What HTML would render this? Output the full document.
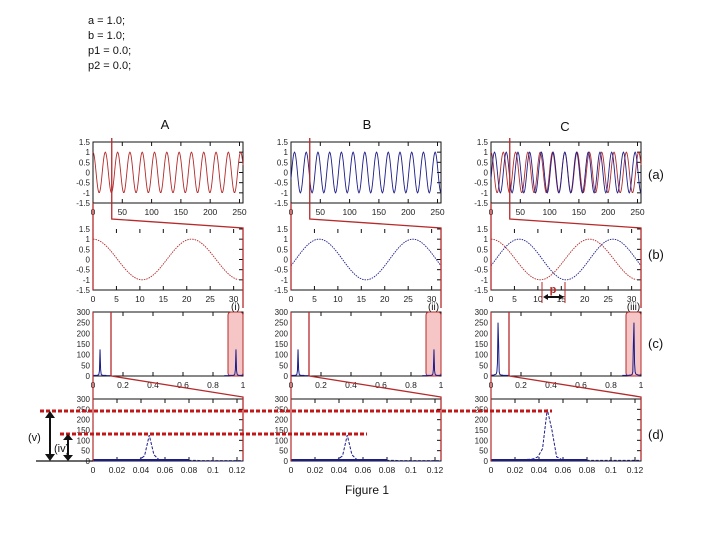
<!DOCTYPE html>
<html><head><meta charset="utf-8"><style>
html,body{margin:0;padding:0;background:#fff;}
svg{display:block;font-family:"Liberation Sans",sans-serif;}
</style></head><body>
<svg id="fig" width="720" height="540" viewBox="0 0 720 540">
<g font-size="11" fill="#111">
<text x="88" y="24">a = 1.0;</text>
<text x="88" y="39">b = 1.0;</text>
<text x="88" y="54">p1 = 0.0;</text>
<text x="88" y="69">p2 = 0.0;</text>
</g>
<g font-size="13" fill="#111">
<text x="165" y="129" text-anchor="middle">A</text>
<text x="367" y="129" text-anchor="middle">B</text>
<text x="565" y="131" text-anchor="middle">C</text>
<text x="648" y="179">(a)</text>
<text x="648" y="259">(b)</text>
<text x="648" y="348">(c)</text>
<text x="648" y="439">(d)</text>
</g>
<text x="367" y="494" text-anchor="middle" font-size="12" fill="#111">Figure 1</text>
<g id="plots"></g>
<g id="annot"></g>
</svg>
<script>
// Signal parameters per column: period (samples), phase offset
const redPeriods = [21, null, 21];
const bluePeriods = [null, 20, 20];
const bluePhase = [0, 1, 1];
// Spectrum amplitudes, bins k/256 for k=0..32
const specA = [3,3,3,3,3,3,3,3,4,5,8,25,125,30,8,5,4,3,3,3,3,3,3,2,2,2,2,2,2,2,2,2,2];
const specB = [3,3,3,3,3,3,3,3,4,5,8,25,125,30,8,5,4,3,3,3,3,3,3,2,2,2,2,2,2,2,2,2,2];
const specC = [4,4,4,4,4,5,6,7,8,10,20,60,250,150,20,8,6,5,4,4,4,3,3,3,3,3,3,3,3,3,3,3,3];
const specs = [specA, specB, specC];
const xTicksA = [0,50,100,150,200,250];
const xTicksB = [0,5,10,15,20,25,30];
const xTicksC = [0,0.2,0.4,0.6,0.8,1];
const xTickLabelsC = ["0","0.2","0.4","0.6","0.8","1"];
const xTicksD = [0,0.02,0.04,0.06,0.08,0.1,0.12];
const yTicksSig = [1.5,1,0.5,0,-0.5,-1,-1.5];
const yTicksSpec = [0,50,100,150,200,250,300];
const roman = ["(i)","(ii)","(iii)"];

const NS="http://www.w3.org/2000/svg";
const plots=document.getElementById('plots');
const annot=document.getElementById('annot');
function mk(tag,attrs,parent){const e=document.createElementNS(NS,tag);for(const k in attrs)e.setAttribute(k,attrs[k]);(parent||plots).appendChild(e);return e;}
const RED="#b52a2a", BLUE="#1c1c8a";
const colX=[93,291,491], W=150;
const rows=[{y0:142,y1:203},{y0:229,y1:290},{y0:312,y1:376},{y0:399,y1:461}];

function axes(g,x0,r,xmin,xmax,ymin,ymax,xt,xl,yt,name,noTop){
  const sx=v=>x0+(v-xmin)/(xmax-xmin)*W, sy=v=>r.y1-(v-ymin)/(ymax-ymin)*(r.y1-r.y0);
  let f;
  if(noTop){
    f=mk('path',{d:`M${x0},${r.y0} L${x0},${r.y1} L${x0+W},${r.y1} L${x0+W},${r.y0}`,fill:"none",stroke:"#111","stroke-width":1},g);
  } else {
    f=mk('rect',{x:x0,y:r.y0,width:W,height:r.y1-r.y0,fill:"none",stroke:"#111","stroke-width":1},g);
  }
  
  
  xt.forEach((v,i)=>{
    mk('line',{x1:sx(v),x2:sx(v),y1:r.y1,y2:r.y1-4,stroke:"#111"},g);
    mk('line',{x1:sx(v),x2:sx(v),y1:r.y0,y2:r.y0+4,stroke:"#111"},g);
    const t=mk('text',{x:sx(v),y:r.y1+12,"font-size":8.5,"text-anchor":"middle",fill:"#222"},g);
    t.textContent=xl?xl[i]:String(v);
    
    
  });
  yt.forEach(v=>{
    mk('line',{x1:x0+W,x2:x0+W-4,y1:sy(v),y2:sy(v),stroke:"#111"},g);
    const t=mk('text',{x:x0-3,y:sy(v)+3,"font-size":8,"text-anchor":"end",fill:"#222"},g);
    t.textContent=String(v);
    
    
  });
  return {sx,sy};
}
function sig(period,phase,t,isCos){const a=2*Math.PI*(t-phase)/period;return isCos?Math.cos(a):Math.sin(a);}

for(let c=0;c<3;c++){
  const x0=colX[c];
  const g=mk('g',{});
  
  
  // (a)
  let s=axes(g,x0,rows[0],0,256,-1.5,1.5,xTicksA,null,yTicksSig,'signal-full',false);
  if(redPeriods[c]){let p=[];for(let t=0;t<=256;t++)p.push(s.sx(t)+","+s.sy(sig(redPeriods[c],0,t,true)));
    const l=mk('polyline',{points:p.join(' '),fill:"none",stroke:RED,"stroke-width":0.9},g);
    }
  if(bluePeriods[c]){let p=[];for(let t=0;t<=256;t++)p.push(s.sx(t)+","+s.sy(sig(bluePeriods[c],bluePhase[c],t,false)));
    const l=mk('polyline',{points:p.join(' '),fill:"none",stroke:BLUE,"stroke-width":0.9},g);
    }
  // (b)
  s=axes(g,x0,rows[1],0,32,-1.5,1.5,xTicksB,null,yTicksSig,'signal-zoom',true);
  if(redPeriods[c]){let p=[];for(let t=0;t<=31;t+=0.25)p.push(s.sx(t)+","+s.sy(sig(redPeriods[c],0,t,true)));
    const l=mk('polyline',{points:p.join(' '),fill:"none",stroke:RED,"stroke-width":0.9,"stroke-dasharray":"1.5 1"},g);
    }
  if(bluePeriods[c]){let p=[];for(let t=0;t<=32;t+=0.25)p.push(s.sx(t)+","+s.sy(sig(bluePeriods[c],bluePhase[c],t,false)));
    const l=mk('polyline',{points:p.join(' '),fill:"none",stroke:BLUE,"stroke-width":0.9,"stroke-dasharray":"1.5 1"},g);
    }
  // (c)
  s=axes(g,x0,rows[2],0,1,0,300,xTicksC,xTickLabelsC,yTicksSpec,'spectrum-full',false);
  const sh=mk('rect',{x:s.sx(0.9),y:rows[2].y0,width:s.sx(1)-s.sx(0.9),height:rows[2].y1-rows[2].y0,fill:"#f6c6c6",stroke:RED,rx:3},g);
  
  const rl=mk('text',{x:s.sx(0.95),y:rows[2].y0-2,"font-size":10,"text-anchor":"middle",fill:"#111"},g);
  rl.textContent=roman[c];
  const sp=specs[c];
  let p1=[],p2=[];
  sp.forEach((v,k)=>{p1.push(s.sx(k/256)+","+s.sy(v));p2.push(s.sx(1-k/256)+","+s.sy(v));});
  let l=mk('polyline',{points:p1.join(' '),fill:"none",stroke:BLUE,"stroke-width":1},g);
  
  l=mk('polyline',{points:p2.join(' '),fill:"none",stroke:BLUE,"stroke-width":1},g);
  
  // (d)
  s=axes(g,x0,rows[3],0,0.125,0,300,xTicksD,null,yTicksSpec,'spectrum-zoom',false);
  let p=[];sp.forEach((v,k)=>p.push(s.sx(k/256)+","+s.sy(v)));
  l=mk('polyline',{points:p.join(' '),fill:"none",stroke:BLUE,"stroke-width":1,"stroke-dasharray":"3 1.5"},g);
  
  mk('line',{x1:x0,x2:s.sx(0.08),y1:rows[3].y1-1,y2:rows[3].y1-1,stroke:BLUE,"stroke-width":2},g);
  // red zoom connectors
  const xa=x0+32/256*W, xr=x0+W;
  mk('polyline',{points:`${xa},${rows[0].y0-4} ${xa},${rows[0].y1+16} ${xr},${rows[1].y0-1} ${xr},${rows[1].y1+18}`,fill:"none",stroke:RED,"stroke-width":1.3},g);
  mk('line',{x1:x0,x2:x0,y1:rows[0].y1,y2:rows[1].y1,stroke:RED,"stroke-width":1.3},g);
  const xc=x0+0.12*W;
  mk('polyline',{points:`${xc},${rows[2].y0} ${xc},${rows[2].y1} ${xr},${rows[3].y0-2} ${xr},${rows[3].y1-1}`,fill:"none",stroke:RED,"stroke-width":1.3},g);
  mk('line',{x1:x0,x2:x0,y1:rows[2].y0,y2:rows[3].y1,stroke:RED,"stroke-width":1.2},g);
}
// annotations
function a(tag,attrs,name){const e=mk(tag,attrs,annot);return e;}
a('line',{x1:40,x2:552,y1:411,y2:411,stroke:"#c01818","stroke-width":3,"stroke-dasharray":"4 2"},'level-v-line');
a('line',{x1:60,x2:367,y1:434,y2:434,stroke:"#c01818","stroke-width":3,"stroke-dasharray":"4 2"},'level-iv-line');
a('line',{x1:36,x2:93,y1:461,y2:461,stroke:"#111","stroke-width":1.2},'baseline');
a('line',{x1:50,x2:50,y1:416,y2:456,stroke:"#111","stroke-width":2},'arrow-v');
a('path',{d:"M45,418 L50,411 L55,418 Z M45,454 L50,461 L55,454 Z",fill:"#111"},'arrow-v-heads');
a('line',{x1:68,x2:68,y1:439,y2:456,stroke:"#111","stroke-width":2},'arrow-iv');
a('path',{d:"M63,440 L68,434 L73,440 Z M63,455 L68,461 L73,455 Z",fill:"#111"},'arrow-iv-heads');
a('text',{x:28,y:441,"font-size":11,fill:"#111"},'label-v').textContent="(v)";
a('text',{x:54,y:452,"font-size":11,fill:"#111"},'label-iv').textContent="(iv)";
a('line',{x1:542,x2:542,y1:282,y2:303,stroke:RED,"stroke-width":1},'phase-marker-left');
a('line',{x1:565,x2:565,y1:282,y2:303,stroke:RED,"stroke-width":1},'phase-marker-right');
a('line',{x1:546,x2:561,y1:297,y2:297,stroke:"#111","stroke-width":2},'phase-arrow');
a('path',{d:"M543,297 L548,294 L548,300 Z M564,297 L559,294 L559,300 Z",fill:"#111"},'phase-arrow-heads');
a('text',{x:553,y:293,"font-size":11,"font-weight":"bold","text-anchor":"middle",fill:RED},'phase-label').textContent="p";
</script>
</body></html>
